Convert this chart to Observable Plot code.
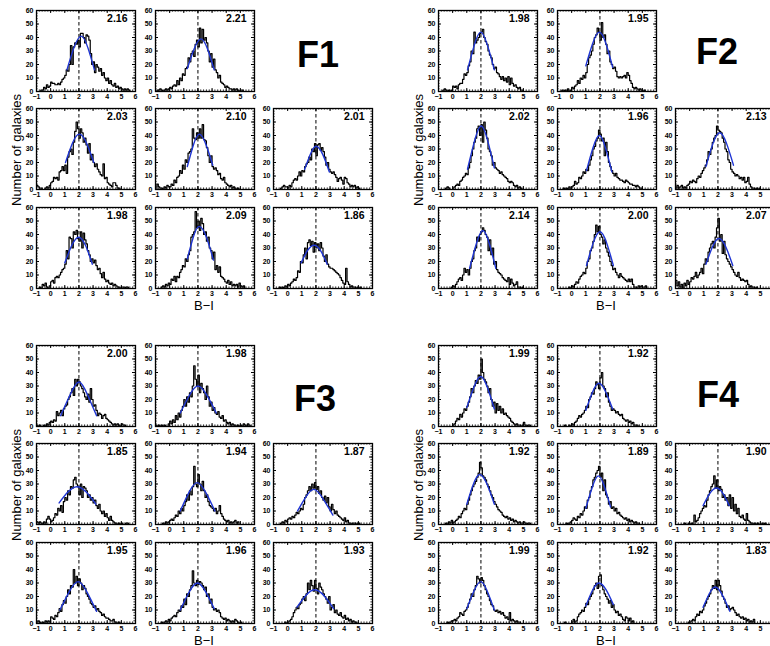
<!DOCTYPE html>
<html><head><meta charset="utf-8">
<script src="https://cdn.jsdelivr.net/npm/d3@7"></script>
<script src="https://cdn.jsdelivr.net/npm/@observablehq/plot@0.6"></script>
<style>
html,body{margin:0;padding:0;background:#fff;overflow:hidden;}
#root{position:relative;width:770px;height:646px;overflow:hidden;font-family:"Liberation Sans",Arial,sans-serif;background:#fff;}
.p{position:absolute;}
.p svg{max-width:none !important;display:block;}
.lbl{position:absolute;transform:translate(-50%,-50%);white-space:nowrap;color:#000;line-height:1;}
</style></head><body><div id="root"></div>
<script>
// ---- tick labels ----
const xTicks = [-1, 0, 1, 2, 3, 4, 5, 6];
const yTicks = [0, 10, 20, 30, 40, 50, 60];
const dashedAt = [2];

// ---- bins: 0.1 wide from -1 to 6 (70 bins) ----
const binStart = d3.range(70).map(i => -1 + i / 10);

// ---- F1 ----
const F1_means = ["2.16", "2.21", "2.03", "2.10", "2.01", "1.98", "2.09", "1.86"];
const F1_counts = [
 [0,0,0,1,1,3,2,5,3,4, 7,6,6,5,5,6,5,7,9,10, 12,16,15,20,34,20,33,36,35,38, 33,43,43,40,36,42,41,38,28,20, 22,14,20,18,15,17,12,14,10,8, 10,6,8,5,4,6,3,4,2,3, 2,1,2,1,2,1,0,0,0,0],
 [0,1,1,2,1,0,1,2,1,2, 3,2,4,5,4,8,5,10,8,13, 12,17,18,25,22,28,30,26,35,38, 33,47,36,46,38,40,36,30,22,28, 18,24,16,14,10,12,7,6,5,3, 4,3,2,2,1,2,1,2,1,0, 1,1,0,0,0,0,0,0,0,0],
 [3,2,1,1,0,0,1,2,1,3, 5,6,9,8,9,7,13,14,17,14, 18,12,24,28,30,26,35,43,50,45, 38,45,42,35,38,33,27,34,22,26, 20,17,19,15,13,11,10,19,8,9, 5,4,3,2,5,5,3,1,1,0, 0,0,0,0,0,0,0,0,0,0],
 [0,4,2,1,1,0,2,1,3,2, 2,4,3,7,5,9,10,14,12,18, 15,22,20,27,28,30,45,38,37,42, 38,45,38,48,37,36,31,25,20,25, 17,15,16,14,11,12,8,7,9,5, 4,3,2,3,1,2,1,0,1,0, 0,0,0,0,0,0,0,0,0,0],
 [0,0,0,0,0,1,2,3,2,2, 1,3,2,5,7,8,7,10,13,10, 14,13,17,19,20,24,22,30,28,34, 25,33,34,29,31,28,24,18,20,15, 13,12,13,11,9,6,8,9,7,4, 9,8,5,4,2,3,2,3,1,2, 1,0,0,0,0,0,0,0,0,0],
 [0,0,1,0,3,2,4,1,0,2, 5,6,4,8,9,8,10,12,14,15, 18,28,22,38,37,30,42,40,43,37, 35,42,30,41,36,33,28,25,20,22, 19,21,17,14,15,11,8,12,7,5, 6,4,3,4,2,3,2,1,1,0, 1,1,0,1,1,0,0,0,0,0],
 [0,0,0,0,1,2,1,3,2,4, 3,7,6,9,5,9,8,12,14,17, 16,22,20,25,28,38,40,42,57,45, 50,43,52,48,40,42,35,38,30,28, 22,27,14,17,12,16,9,8,7,5, 4,6,3,5,2,3,2,3,1,4, 2,1,2,0,0,0,0,0,0,0],
 [0,0,0,0,1,0,1,0,2,1, 3,2,4,5,7,6,8,13,12,20, 19,25,30,22,34,36,32,35,27,34, 30,33,28,34,30,24,20,25,18,16, 15,15,14,13,12,11,10,8,6,4, 3,15,5,3,1,2,1,1,0,1, 0,1,0,0,0,0,0,0,0,0]
];
const F1_fits = [
 [[1.15,16],[1.65,32.5],[2.16,41],[2.63,32.5],[3.1,16]],
 [[1.25,17],[1.73,31.5],[2.21,39],[2.68,31.5],[3.15,16]],
 [[1.05,20],[1.54,34.3],[2.03,41],[2.54,34.3],[3.05,20]],
 [[1.25,17],[1.68,33],[2.10,41],[2.58,33],[3.05,18]],
 [[1.2,15],[1.6,26],[2.01,32],[2.48,26],[2.95,13]],
 [[1.0,19],[1.49,31.8],[1.98,38],[2.47,31.8],[2.95,18]],
 [[1.25,22],[1.67,38],[2.09,46],[2.6,38],[3.1,21]],
 [[0.95,19],[1.4,28],[1.86,32],[2.33,28],[2.8,18]]
];

// ---- F2 ----
const F2_means = ["1.98", "1.95", "2.02", "1.96", "2.13", "2.14", "2.00", "2.07"];
const F2_counts = [
 [0,0,0,1,2,1,0,1,0,1, 4,3,4,2,5,6,6,9,13,12, 14,19,22,30,28,44,36,38,40,43, 44,46,40,37,35,30,27,25,20,17, 18,14,13,11,9,11,8,10,7,11, 5,10,6,4,5,3,2,3,1,1, 0,0,0,0,0,0,0,0,0,0],
 [0,0,0,1,0,1,0,2,0,1, 3,2,4,5,8,6,10,9,12,10, 14,20,25,27,30,35,40,42,47,44, 38,51,40,42,35,28,30,22,20,17, 18,15,11,10,11,10,11,12,10,14, 12,8,6,3,2,3,2,1,2,1, 0,1,0,0,0,0,0,0,0,0],
 [0,0,0,0,0,1,2,1,0,0, 1,2,3,4,3,6,7,9,10,12, 11,16,20,25,30,35,38,45,47,40, 48,35,50,44,38,30,28,25,18,20, 16,15,14,12,13,11,10,9,8,6, 5,6,5,3,2,3,1,2,1,0, 0,0,0,0,0,0,0,0,0,0],
 [0,0,0,0,1,0,1,0,2,0, 2,3,6,4,5,9,8,10,13,12, 15,14,18,22,25,30,32,36,38,44, 41,36,38,25,35,28,20,17,14,12, 10,12,9,8,7,7,6,5,7,6, 5,4,4,3,3,2,3,2,1,1, 0,0,0,0,0,0,0,0,0,0],
 [1,3,1,2,3,1,2,1,3,4, 6,5,7,6,5,8,10,9,12,14, 16,18,22,28,26,30,35,38,40,47, 44,43,42,38,35,30,28,22,20,15, 13,12,10,11,10,8,9,7,9,5, 6,9,4,2,1,1,0,1,0,1, 0,0,0,0,0,0,0,0,0,0],
 [0,0,0,0,0,0,0,0,0,1, 2,1,3,5,7,8,6,10,15,12, 14,10,15,20,22,28,30,38,35,40, 42,45,43,40,38,28,36,25,30,18, 20,14,12,11,10,8,7,6,5,8, 3,7,4,2,3,5,1,1,0,1, 0,0,0,0,0,0,0,0,0,0],
 [0,0,0,0,0,0,0,0,1,0, 2,1,3,5,4,7,9,10,12,11, 15,20,22,28,30,35,40,47,42,46, 40,38,33,36,30,27,24,20,17,14, 15,12,10,8,11,9,8,7,6,5, 7,5,7,3,1,1,0,2,1,2, 1,1,2,0,0,0,0,0,0,0],
 [6,2,5,1,3,0,4,2,6,3, 5,8,7,9,12,8,10,12,15,11, 18,22,20,27,30,33,35,30,38,45, 52,35,40,26,35,25,22,20,18,16, 14,12,10,9,12,8,6,7,6,5, 6,3,1,2,1,1,0,1,0,0, 0,0,0,0,0,0,0,0,0,0]
];
const F2_fits = [
 [[1.05,16],[1.52,34],[1.98,44],[2.47,34],[2.95,16]],
 [[1.0,19],[1.48,35.4],[1.95,44],[2.43,35.4],[2.9,18]],
 [[1.05,15],[1.54,35.6],[2.02,47],[2.49,35.6],[2.95,16]],
 [[1.05,14],[1.5,30.6],[1.96,40],[2.4,30.6],[2.85,13]],
 [[1.15,17],[1.64,33.8],[2.13,42],[2.62,33.8],[3.1,18]],
 [[1.2,15],[1.67,33],[2.14,43],[2.6,33],[3.05,15]],
 [[1.05,17],[1.52,33.6],[2.0,42],[2.48,33.6],[2.95,17]],
 [[1.15,18],[1.61,30.7],[2.07,37],[2.56,30.7],[3.05,17]]
];

// ---- F3 ----
const F3_means = ["2.00", "1.98", "1.85", "1.94", "1.87", "1.95", "1.96", "1.93"];
const F3_counts = [
 [1,0,1,0,0,1,0,2,1,3, 4,3,5,4,11,8,10,12,8,13, 15,16,20,22,25,28,23,35,30,35, 33,30,28,25,22,20,24,18,28,20, 15,16,12,8,10,9,6,8,9,6, 5,4,3,2,1,2,1,2,1,0, 2,1,1,0,0,0,0,0,0,0],
 [1,0,1,0,1,0,1,0,0,2, 4,2,5,3,8,5,10,7,12,15, 20,15,22,18,25,22,30,45,35,30, 38,25,32,28,25,20,30,22,15,18, 12,14,10,9,11,7,6,8,4,5, 3,2,3,1,2,1,1,0,1,0, 1,0,2,1,0,2,1,0,0,0],
 [2,1,2,1,0,2,1,4,6,4, 2,3,5,8,7,12,10,14,9,17, 20,18,25,22,28,27,33,35,30,28, 22,30,20,28,27,25,20,22,18,20, 16,18,14,12,15,10,8,10,6,8, 5,3,6,3,2,1,1,0,1,0, 1,0,0,1,1,0,0,0,0,0],
 [0,0,0,0,0,1,0,2,1,2, 3,4,3,5,7,6,10,8,12,10, 14,17,22,18,25,22,28,43,30,28, 37,30,25,32,25,20,22,17,14,13, 12,10,12,8,10,14,8,6,4,3, 2,3,1,2,1,2,3,1,2,0, 0,0,0,0,0,0,0,0,0,0],
 [0,0,0,0,0,1,2,1,3,2, 4,5,4,6,5,7,9,8,10,12, 11,15,20,22,25,28,25,30,27,31, 26,28,23,25,20,18,21,16,20,13, 10,15,11,8,10,7,6,5,4,3, 5,2,3,1,1,0,1,1,0,1, 1,0,0,0,0,0,0,0,0,0],
 [1,2,1,0,1,0,2,1,2,1, 5,4,3,6,5,8,11,9,14,17, 15,20,25,22,28,27,40,30,35,28, 33,30,25,28,26,22,20,18,15,14, 12,13,10,11,9,8,6,7,5,4, 4,3,2,2,3,1,1,0,1,0, 0,0,0,0,0,0,0,0,0,0],
 [0,0,0,0,1,0,1,2,1,3, 2,4,5,6,5,8,10,9,13,12, 18,14,22,20,25,28,39,30,28,32, 29,31,30,28,25,27,20,22,15,18, 12,10,11,9,10,8,5,4,3,4, 2,3,2,1,2,1,3,2,1,0, 1,0,0,0,0,0,0,0,0,0],
 [0,0,0,0,0,0,0,0,1,0, 1,2,3,5,8,10,12,11,14,15, 18,20,17,22,30,25,32,28,24,32, 26,22,30,27,25,22,20,18,15,20, 10,12,14,8,10,7,6,8,5,4, 6,3,4,2,3,1,2,1,1,0, 0,0,0,0,0,0,0,0,0,0]
];
const F3_fits = [
 [[0.7,8],[1.35,23],[2.0,33],[2.63,23],[3.25,8]],
 [[0.75,10],[1.38,22.8],[2.0,30],[2.65,22.8],[3.3,10]],
 [[0.6,16],[1.22,24],[1.85,28],[2.52,24],[3.2,15]],
 [[0.75,10],[1.35,23.4],[1.94,31],[2.57,23.4],[3.2,10]],
 [[0.7,10],[1.29,20.4],[1.87,26],[2.53,18.7],[3.2,7]],
 [[0.65,10],[1.3,23.3],[1.95,31],[2.6,22.7],[3.25,9]],
 [[0.75,10],[1.35,22.8],[1.96,30],[2.55,23.4],[3.15,11]],
 [[0.65,12],[1.29,20.8],[1.93,25],[2.59,20.4],[3.25,11]]
];

// ---- F4 ----
const F4_means = ["1.99", "1.92", "1.92", "1.89", "1.90", "1.99", "1.92", "1.83"];
const F4_counts = [
 [0,0,0,0,0,0,0,0,0,0, 1,2,4,6,5,9,7,10,13,12, 15,18,22,28,25,30,34,32,38,35, 50,40,35,33,30,25,28,20,15,18, 10,17,12,15,10,13,9,10,8,7, 6,4,3,2,1,2,1,1,0,1, 3,1,0,1,1,0,0,0,0,0],
 [0,0,0,0,0,1,0,0,1,0, 2,1,3,4,6,8,7,9,10,12, 15,14,20,22,25,24,28,33,31,28, 36,40,30,28,22,25,18,15,12,13, 12,10,11,9,8,9,6,5,4,5, 3,4,2,3,1,1,1,0,0,0, 0,0,0,0,0,0,0,0,0,0],
 [0,0,0,0,0,1,0,2,1,3, 1,2,3,4,6,5,8,10,12,11, 15,18,22,25,28,30,32,35,38,46, 42,36,35,33,30,28,25,22,20,17, 15,13,11,10,9,7,6,5,6,4, 5,3,4,2,3,2,1,2,1,1, 2,1,0,1,1,0,0,0,0,0],
 [0,0,0,0,0,0,1,0,1,2, 3,5,4,3,6,5,8,7,10,13, 12,18,20,25,28,33,35,38,40,43, 35,38,25,33,22,20,15,17,12,13, 10,12,8,9,7,6,5,4,5,3, 4,2,3,2,1,2,1,1,0,0, 0,0,0,0,0,0,0,0,0,0],
 [0,0,0,0,0,0,1,0,0,1, 0,1,0,7,2,3,5,8,10,12, 14,13,18,22,25,28,30,36,27,33, 25,28,26,20,22,18,20,14,22,12, 20,10,15,8,12,6,5,7,4,3, 8,3,2,1,1,0,1,0,1,0, 0,1,0,1,0,0,0,0,0,0],
 [0,0,0,0,0,0,1,0,1,2, 2,3,2,4,5,8,7,6,9,10, 12,15,18,22,20,25,28,35,33,30, 34,32,28,25,22,20,17,14,13,10, 9,10,8,9,7,8,6,4,5,3, 8,2,3,2,1,2,1,1,0,0, 0,0,0,0,0,0,0,0,0,0],
 [0,0,0,0,0,1,0,0,0,0, 1,3,1,2,5,7,8,10,9,12, 15,14,18,20,22,25,28,30,26,35, 36,28,25,22,20,18,15,17,12,14, 10,8,9,6,7,5,3,2,5,4, 2,4,1,2,0,0,0,0,0,0, 0,0,0,0,0,0,0,0,0,0],
 [0,0,0,0,0,0,0,0,0,1, 1,2,3,2,5,7,6,9,8,10, 13,15,18,20,22,25,28,26,32,25, 32,28,24,20,18,15,12,13,10,11, 12,10,8,6,7,5,4,5,3,4, 2,3,1,2,1,3,0,0,0,0, 0,0,0,0,0,0,0,0,0,0]
];
const F4_fits = [
 [[1.0,14],[1.5,29],[1.99,37],[2.47,28.5],[2.95,13]],
 [[1.0,12],[1.46,25],[1.92,32],[2.41,25.6],[2.9,13]],
 [[1.0,15],[1.46,29.6],[1.92,37],[2.44,29.6],[2.95,15]],
 [[1.0,12],[1.45,27.4],[1.89,36],[2.32,27.9],[2.75,13]],
 [[0.95,14],[1.43,23],[1.9,27],[2.35,23],[2.8,14]],
 [[1.0,11],[1.5,23.9],[1.99,31],[2.47,23.4],[2.95,10]],
 [[1.0,13],[1.46,24.3],[1.92,30],[2.44,24.9],[2.95,14]],
 [[0.95,12],[1.39,22],[1.83,27],[2.34,20.5],[2.85,9]]
];

// ---- layout ----
const fields = [
  {name: "F1", counts: F1_counts, fits: F1_fits, means: F1_means, ox: 0,   oy: 0,   tag: [318, 55]},
  {name: "F2", counts: F2_counts, fits: F2_fits, means: F2_means, ox: 402, oy: 0,   tag: [717, 52]},
  {name: "F3", counts: F3_counts, fits: F3_fits, means: F3_means, ox: 0,   oy: 335, tag: [315, 399]},
  {name: "F4", counts: F4_counts, fits: F4_fits, means: F4_means, ox: 402, oy: 335, tag: [718, 395]}
];
const colLeft = [36, 155, 273];
const rowTop = [10, 108, 207];
const slots = [[0,0],[0,1],[1,0],[1,1],[1,2],[2,0],[2,1],[2,2]];
const W = 99, H = 81, ML = 22, MR = 5, MT = 5, MB = 14;
const PAGE_W = 770;

const xMinor = d3.range(-1, 6.0001, 0.2);
const yMinor = d3.range(0, 60.0001, 2);
const fmt = d => d < 0 ? "\u2212" + (-d) : String(d);

function panel(counts, fit, mean, labelTicks) {
  const hist = counts.map((c, i) => ({x: binStart[i], y: c}));
  hist.push({x: 6, y: counts[counts.length - 1]});
  const tx = 7 / W, ty = 60 / H; // data units per pixel
  return Plot.plot({
    width: W + ML + MR, height: H + MT + MB,
    marginLeft: ML, marginRight: MR, marginTop: MT, marginBottom: MB,
    style: {fontFamily: "'Liberation Sans', Arial, sans-serif", fontSize: "7px", fontWeight: "bold", background: "transparent", overflow: "visible", color: "#000", maxWidth: "none"},
    x: {domain: [-1, 6], label: null},
    y: {domain: [0, 60], label: null},
    marks: [
      Plot.ruleX(dashedAt, {stroke: "#000", strokeDasharray: "3.5,2.5", strokeWidth: 1}),
      Plot.line(hist, {x: "x", y: "y", curve: "step-after", stroke: "#000", strokeWidth: 1.2}),
      Plot.line(fit, {x: d => d[0], y: d => d[1], curve: "natural", stroke: "#1f35d4", strokeWidth: 1.4}),
      Plot.ruleX(xTicks, {y1: 0, y2: 3 * ty, stroke: "#000", strokeWidth: 1}),
      Plot.ruleX(xTicks, {y1: 60, y2: 60 - 3 * ty, stroke: "#000", strokeWidth: 1}),
      Plot.ruleX(xMinor, {y1: 0, y2: 1.6 * ty, stroke: "#000", strokeWidth: 0.8}),
      Plot.ruleX(xMinor, {y1: 60, y2: 60 - 1.6 * ty, stroke: "#000", strokeWidth: 0.8}),
      Plot.ruleY(yTicks, {x1: -1, x2: -1 + 3 * tx, stroke: "#000", strokeWidth: 1}),
      Plot.ruleY(yTicks, {x1: 6, x2: 6 - 3 * tx, stroke: "#000", strokeWidth: 1}),
      Plot.ruleY(yMinor, {x1: -1, x2: -1 + 1.6 * tx, stroke: "#000", strokeWidth: 0.8}),
      Plot.ruleY(yMinor, {x1: 6, x2: 6 - 1.6 * tx, stroke: "#000", strokeWidth: 0.8}),
      Plot.frame({stroke: "#000", strokeWidth: 1.3}),
      Plot.axisX({ticks: labelTicks, tickSize: 0, tickPadding: 2.5, tickFormat: fmt, fill: "#000"}),
      Plot.axisY({ticks: yTicks, tickSize: 0, tickPadding: 3, fill: "#000"}),
      Plot.text([mean], {text: d => d, frameAnchor: "top-right", textAnchor: "end", lineAnchor: "top", dx: -8, dy: 4, fontSize: 10.5, fontWeight: "bold", fill: "#000"})
    ]
  });
}

const root = document.getElementById("root");
function addLabel(text, x, y, css) {
  const d = document.createElement("div");
  d.className = "lbl";
  d.textContent = text;
  d.style.left = x + "px";
  d.style.top = y + "px";
  Object.assign(d.style, css);
  root.appendChild(d);
}

for (const f of fields) {
  slots.forEach(([r, c], k) => {
    const frameLeft = f.ox + colLeft[c];
    // tick labels that would fall beyond the page edge are cut off in the original
    const labelTicks = xTicks.filter(t => frameLeft + (t + 1) / 7 * W + 3 <= PAGE_W);
    const svg = panel(f.counts[k], f.fits[k], f.means[k], labelTicks);
    const wrap = document.createElement("div");
    wrap.className = "p";
    wrap.style.left = (frameLeft - ML) + "px";
    wrap.style.top = (f.oy + rowTop[r] - MT) + "px";
    wrap.style.width = (W + ML + MR) + "px";
    wrap.appendChild(svg);
    root.appendChild(wrap);
  });
  addLabel(f.name, f.tag[0], f.tag[1], {fontSize: "36px", fontWeight: "bold"});
  addLabel("Number of galaxies", f.ox + 16, f.oy + 150, {fontSize: "13px", transform: "translate(-50%,-50%) rotate(-90deg)"});
  addLabel("B\u2212I", f.ox + 204, f.oy + 305, {fontSize: "13px"});
}
</script>
</body></html>
